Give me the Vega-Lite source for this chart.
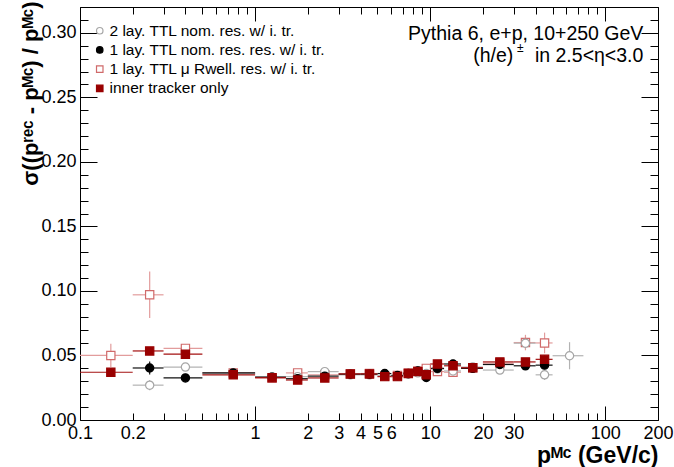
{
  "$schema": "https://vega.github.io/schema/vega-lite/v6.json",
  "width": 578,
  "height": 413,
  "padding": {"left": 80, "top": 7, "right": 16, "bottom": 47},
  "autosize": {"type": "none"},
  "background": "white",
  "config": {
    "view": {"stroke": "black", "strokeWidth": 1},
    "font": "Liberation Sans",
    "axis": {"labelFont": "Liberation Sans", "titleFont": "Liberation Sans", "labelColor": "black", "titleColor": "black", "tickColor": "black", "grid": false, "domain": false}
  },
  "datasets": {
    "res": [
      {"s":"C","p":0.15,"plo":0.1,"phi":0.2,"y":0.050,"ylo":0.041,"yhi":0.059},
      {"s":"C","p":0.25,"plo":0.2,"phi":0.3,"y":0.097,"ylo":0.079,"yhi":0.115},
      {"s":"C","p":0.4,"plo":0.3,"phi":0.5,"y":0.0555,"ylo":0.0525,"yhi":0.0585},
      {"s":"C","p":0.75,"plo":0.5,"phi":1,"y":0.0365,"ylo":0.0353,"yhi":0.0377},
      {"s":"C","p":1.25,"plo":1,"phi":1.5,"y":0.0325,"ylo":0.0315,"yhi":0.0335},
      {"s":"C","p":1.75,"plo":1.5,"phi":2,"y":0.0365,"ylo":0.0355,"yhi":0.0375},
      {"s":"C","p":2.5,"plo":2,"phi":3,"y":0.035,"ylo":0.034,"yhi":0.036},
      {"s":"C","p":3.5,"plo":3,"phi":4,"y":0.0357,"ylo":0.0347,"yhi":0.0367},
      {"s":"C","p":4.5,"plo":4,"phi":5,"y":0.036,"ylo":0.035,"yhi":0.037},
      {"s":"C","p":5.5,"plo":5,"phi":6,"y":0.034,"ylo":0.033,"yhi":0.035},
      {"s":"C","p":6.5,"plo":6,"phi":7,"y":0.0345,"ylo":0.0335,"yhi":0.0355},
      {"s":"C","p":7.5,"plo":7,"phi":8,"y":0.0365,"ylo":0.0355,"yhi":0.0375},
      {"s":"C","p":8.5,"plo":8,"phi":9,"y":0.038,"ylo":0.037,"yhi":0.039},
      {"s":"C","p":9.5,"plo":9,"phi":10,"y":0.040,"ylo":0.039,"yhi":0.041},
      {"s":"C","p":11,"plo":10,"phi":12,"y":0.0375,"ylo":0.0365,"yhi":0.0385},
      {"s":"C","p":13.5,"plo":12,"phi":15,"y":0.037,"ylo":0.036,"yhi":0.038},
      {"s":"C","p":17.5,"plo":15,"phi":20,"y":0.0405,"ylo":0.0395,"yhi":0.0415},
      {"s":"C","p":25,"plo":20,"phi":30,"y":0.044,"ylo":0.0425,"yhi":0.0455},
      {"s":"C","p":35,"plo":30,"phi":40,"y":0.060,"ylo":0.054,"yhi":0.066},
      {"s":"C","p":45,"plo":40,"phi":50,"y":0.0597,"ylo":0.0517,"yhi":0.0677},
      {"s":"A","p":0.25,"plo":0.2,"phi":0.3,"y":0.027,"ylo":0.023,"yhi":0.031},
      {"s":"A","p":0.4,"plo":0.3,"phi":0.5,"y":0.041,"ylo":0.039,"yhi":0.043},
      {"s":"A","p":0.75,"plo":0.5,"phi":1,"y":0.036,"ylo":0.0348,"yhi":0.0372},
      {"s":"A","p":1.25,"plo":1,"phi":1.5,"y":0.0335,"ylo":0.0325,"yhi":0.0345},
      {"s":"A","p":1.75,"plo":1.5,"phi":2,"y":0.0336,"ylo":0.0326,"yhi":0.0346},
      {"s":"A","p":2.5,"plo":2,"phi":3,"y":0.0375,"ylo":0.0365,"yhi":0.0385},
      {"s":"A","p":3.5,"plo":3,"phi":4,"y":0.035,"ylo":0.034,"yhi":0.036},
      {"s":"A","p":4.5,"plo":4,"phi":5,"y":0.035,"ylo":0.034,"yhi":0.036},
      {"s":"A","p":5.5,"plo":5,"phi":6,"y":0.0345,"ylo":0.0335,"yhi":0.0355},
      {"s":"A","p":6.5,"plo":6,"phi":7,"y":0.034,"ylo":0.033,"yhi":0.035},
      {"s":"A","p":7.5,"plo":7,"phi":8,"y":0.0355,"ylo":0.0345,"yhi":0.0365},
      {"s":"A","p":8.5,"plo":8,"phi":9,"y":0.0365,"ylo":0.0355,"yhi":0.0375},
      {"s":"A","p":9.5,"plo":9,"phi":10,"y":0.036,"ylo":0.035,"yhi":0.037},
      {"s":"A","p":11,"plo":10,"phi":12,"y":0.0395,"ylo":0.0385,"yhi":0.0405},
      {"s":"A","p":13.5,"plo":12,"phi":15,"y":0.038,"ylo":0.037,"yhi":0.039},
      {"s":"A","p":17.5,"plo":15,"phi":20,"y":0.041,"ylo":0.040,"yhi":0.042},
      {"s":"A","p":25,"plo":20,"phi":30,"y":0.0387,"ylo":0.0372,"yhi":0.0402},
      {"s":"A","p":35,"plo":30,"phi":40,"y":0.0595,"ylo":0.0555,"yhi":0.0635},
      {"s":"A","p":45,"plo":40,"phi":50,"y":0.035,"ylo":0.031,"yhi":0.039},
      {"s":"A","p":62.5,"plo":50,"phi":75,"y":0.0498,"ylo":0.0393,"yhi":0.0603},
      {"s":"B","p":0.25,"plo":0.2,"phi":0.3,"y":0.0403,"ylo":0.0353,"yhi":0.0453},
      {"s":"B","p":0.4,"plo":0.3,"phi":0.5,"y":0.0326,"ylo":0.0306,"yhi":0.0346},
      {"s":"B","p":0.75,"plo":0.5,"phi":1,"y":0.0365,"ylo":0.0353,"yhi":0.0377},
      {"s":"B","p":1.25,"plo":1,"phi":1.5,"y":0.0332,"ylo":0.0322,"yhi":0.0342},
      {"s":"B","p":1.75,"plo":1.5,"phi":2,"y":0.032,"ylo":0.031,"yhi":0.033},
      {"s":"B","p":2.5,"plo":2,"phi":3,"y":0.034,"ylo":0.033,"yhi":0.035},
      {"s":"B","p":3.5,"plo":3,"phi":4,"y":0.0355,"ylo":0.0345,"yhi":0.0365},
      {"s":"B","p":4.5,"plo":4,"phi":5,"y":0.0355,"ylo":0.0345,"yhi":0.0365},
      {"s":"B","p":5.5,"plo":5,"phi":6,"y":0.036,"ylo":0.035,"yhi":0.037},
      {"s":"B","p":6.5,"plo":6,"phi":7,"y":0.0345,"ylo":0.0335,"yhi":0.0355},
      {"s":"B","p":7.5,"plo":7,"phi":8,"y":0.036,"ylo":0.035,"yhi":0.037},
      {"s":"B","p":8.5,"plo":8,"phi":9,"y":0.038,"ylo":0.037,"yhi":0.039},
      {"s":"B","p":9.5,"plo":9,"phi":10,"y":0.033,"ylo":0.032,"yhi":0.034},
      {"s":"B","p":11,"plo":10,"phi":12,"y":0.040,"ylo":0.039,"yhi":0.041},
      {"s":"B","p":13.5,"plo":12,"phi":15,"y":0.0434,"ylo":0.0424,"yhi":0.0444},
      {"s":"B","p":17.5,"plo":15,"phi":20,"y":0.040,"ylo":0.039,"yhi":0.041},
      {"s":"B","p":25,"plo":20,"phi":30,"y":0.043,"ylo":0.0415,"yhi":0.0445},
      {"s":"B","p":35,"plo":30,"phi":40,"y":0.042,"ylo":0.040,"yhi":0.044},
      {"s":"B","p":45,"plo":40,"phi":50,"y":0.0425,"ylo":0.0395,"yhi":0.0455},
      {"s":"D","p":0.15,"plo":0.1,"phi":0.2,"y":0.037,"ylo":0.034,"yhi":0.040},
      {"s":"D","p":0.25,"plo":0.2,"phi":0.3,"y":0.0535,"ylo":0.0505,"yhi":0.0565},
      {"s":"D","p":0.4,"plo":0.3,"phi":0.5,"y":0.051,"ylo":0.049,"yhi":0.053},
      {"s":"D","p":0.75,"plo":0.5,"phi":1,"y":0.035,"ylo":0.034,"yhi":0.036},
      {"s":"D","p":1.25,"plo":1,"phi":1.5,"y":0.0328,"ylo":0.0318,"yhi":0.0338},
      {"s":"D","p":1.75,"plo":1.5,"phi":2,"y":0.031,"ylo":0.030,"yhi":0.032},
      {"s":"D","p":2.5,"plo":2,"phi":3,"y":0.0326,"ylo":0.0316,"yhi":0.0336},
      {"s":"D","p":3.5,"plo":3,"phi":4,"y":0.0357,"ylo":0.0347,"yhi":0.0367},
      {"s":"D","p":4.5,"plo":4,"phi":5,"y":0.0357,"ylo":0.0347,"yhi":0.0367},
      {"s":"D","p":5.5,"plo":5,"phi":6,"y":0.0336,"ylo":0.0326,"yhi":0.0346},
      {"s":"D","p":6.5,"plo":6,"phi":7,"y":0.0336,"ylo":0.0326,"yhi":0.0346},
      {"s":"D","p":7.5,"plo":7,"phi":8,"y":0.036,"ylo":0.035,"yhi":0.037},
      {"s":"D","p":8.5,"plo":8,"phi":9,"y":0.0375,"ylo":0.0365,"yhi":0.0385},
      {"s":"D","p":9.5,"plo":9,"phi":10,"y":0.035,"ylo":0.034,"yhi":0.036},
      {"s":"D","p":11,"plo":10,"phi":12,"y":0.0434,"ylo":0.0424,"yhi":0.0444},
      {"s":"D","p":13.5,"plo":12,"phi":15,"y":0.042,"ylo":0.041,"yhi":0.043},
      {"s":"D","p":17.5,"plo":15,"phi":20,"y":0.0405,"ylo":0.0395,"yhi":0.0415},
      {"s":"D","p":25,"plo":20,"phi":30,"y":0.045,"ylo":0.0435,"yhi":0.0465},
      {"s":"D","p":35,"plo":30,"phi":40,"y":0.045,"ylo":0.043,"yhi":0.047},
      {"s":"D","p":45,"plo":40,"phi":50,"y":0.047,"ylo":0.044,"yhi":0.050}
    ],
    "notes": [
      {"p": 165, "y": 0.299, "t": "Pythia 6, e+p, 10+250 GeV"},
      {"p": 165, "y": 0.282, "t": "in 2.5<η<3.0"}
    ],
    "notes2": [
      {"p": 165, "y": 0.282, "t": "(h/e)"}
    ],
    "notes3": [
      {"p": 165, "y": 0.282, "t": "±"}
    ]
  },
  "resolve": {"axis": {"x": "independent", "y": "independent"}},
  "layer": [
    {
      "data": {"name": "res"},
      "mark": {"type": "rule", "strokeWidth": 1.2},
      "encoding": {
        "x": {"field": "plo", "type": "quantitative",
          "scale": {"type": "log", "domain": [0.1, 200], "nice": false, "zero": false},
          "axis": {
            "orient": "bottom",
            "values": [0.1,0.2,0.3,0.4,0.5,0.6,0.7,0.8,0.9,1,2,3,4,5,6,7,8,9,10,20,30,40,50,60,70,80,90,100,200],
            "format": "~g",
            "labelExpr": "indexof([0.1,0.2,1,2,3,4,5,6,10,20,30,100,200], datum.value) >= 0 ? datum.label : ''",
            "labelOverlap": false, "labelFlush": false,
            "labelFontSize": 18, "labelBaseline": "top",
            "labelPadding": {"condition": {"test": "datum.value==1||datum.value==10||datum.value==100", "value": 18}, "value": 11},
            "tickSize": {"condition": {"test": "datum.value==1||datum.value==10||datum.value==100", "value": -14}, "value": -7},
            "title": "pᴹᶜ  (GeV/c)", "titleFontSize": 23, "titleFontWeight": "bold",
            "titleAnchor": "end", "titleAlign": "right", "titleX": 578, "titleY": 42, "titleBaseline": "alphabetic"
          }},
        "x2": {"field": "phi"},
        "y": {"field": "y", "type": "quantitative",
          "scale": {"domain": [0, 0.32], "nice": false, "zero": true},
          "axis": {
            "orient": "left",
            "values": [0,0.01,0.02,0.03,0.04,0.05,0.06,0.07,0.08,0.09,0.1,0.11,0.12,0.13,0.14,0.15,0.16,0.17,0.18,0.19,0.2,0.21,0.22,0.23,0.24,0.25,0.26,0.27,0.28,0.29,0.3,0.31,0.32],
            "labelExpr": "round(datum.value*100) % 5 == 0 ? format(datum.value, '.2f') : ''",
            "labelOverlap": false, "labelFlush": false,
            "labelFontSize": 18,
            "labelPadding": {"condition": {"test": "round(datum.value*100) % 5 == 0", "value": 21}, "value": 12},
            "tickSize": {"condition": {"test": "round(datum.value*100) % 5 == 0", "value": -17}, "value": -8},
            "title": "σ((pʳᵉᶜ - pᴹᶜ) / pᴹᶜ)", "titleFontSize": 22, "titleFontWeight": "bold",
            "titleAnchor": "end", "titleAlign": "right", "titleAngle": -90, "titleBaseline": "middle",
            "titleX": -50, "titleY": -6
          }},
        "color": {"field": "s", "type": "nominal", "legend": null,
          "scale": {"domain": ["D","C","B","A"], "range": ["#a31010", "#e29c9c", "#111111", "#b3b3b3"]}}
      }
    },
    {
      "data": {"name": "res"},
      "mark": {"type": "rule", "strokeWidth": 1.2},
      "encoding": {
        "x": {"field": "p", "type": "quantitative", "axis": null},
        "y": {"field": "ylo", "type": "quantitative", "axis": null},
        "y2": {"field": "yhi"},
        "color": {"field": "s", "type": "nominal", "legend": null}
      }
    },
    {
      "data": {"name": "res"},
      "mark": {"type": "point", "filled": true, "opacity": 1, "size": 68, "strokeWidth": 1.2},
      "encoding": {
        "x": {"field": "p", "type": "quantitative",
          "axis": {
            "orient": "top", "labels": false, "title": null,
            "values": [0.1,0.2,0.3,0.4,0.5,0.6,0.7,0.8,0.9,1,2,3,4,5,6,7,8,9,10,20,30,40,50,60,70,80,90,100,200],
            "tickSize": {"condition": {"test": "datum.value==1||datum.value==10||datum.value==100", "value": -14}, "value": -7}
          }},
        "y": {"field": "y", "type": "quantitative",
          "axis": {
            "orient": "right", "labels": false, "title": null,
            "values": [0,0.01,0.02,0.03,0.04,0.05,0.06,0.07,0.08,0.09,0.1,0.11,0.12,0.13,0.14,0.15,0.16,0.17,0.18,0.19,0.2,0.21,0.22,0.23,0.24,0.25,0.26,0.27,0.28,0.29,0.3,0.31,0.32],
            "tickSize": {"condition": {"test": "round(datum.value*100) % 5 == 0", "value": -17}, "value": -8}
          }},
        "shape": {"field": "s", "type": "nominal",
          "scale": {"domain": ["A","B","C","D"], "range": ["circle", "circle", "square", "square"]},
          "legend": {
            "orient": "none", "legendX": 12, "legendY": 16, "title": null, "direction": "vertical",
            "labelExpr": "datum.label == 'A' ? '2 lay. TTL nom. res. w/ i. tr.' : datum.label == 'B' ? '1 lay. TTL nom. res. res. w/ i. tr.' : datum.label == 'C' ? '1 lay. TTL μ Rwell. res. w/ i. tr.' : 'inner tracker only'",
            "labelFont": "Liberation Sans", "labelFontSize": 15.5, "labelColor": "black", "labelOffset": 2, "labelLimit": 300,
            "symbolSize": 42, "symbolStrokeWidth": 1.2, "rowPadding": 2.2, "padding": 0
          }},
        "fill": {"field": "s", "type": "nominal",
          "scale": {"domain": ["A","B","C","D"], "range": ["white", "black", "white", "#990000"]}},
        "stroke": {"field": "s", "type": "nominal",
          "scale": {"domain": ["A","B","C","D"], "range": ["#a6a6a6", "black", "#d06a6a", "#990000"]}}
      }
    },
    {
      "data": {"name": "notes"},
      "mark": {"type": "text", "align": "right", "baseline": "middle", "fontSize": 19.5, "font": "Liberation Sans", "color": "black"},
      "encoding": {
        "x": {"field": "p", "type": "quantitative", "axis": null},
        "y": {"field": "y", "type": "quantitative", "axis": null},
        "text": {"field": "t"}
      }
    },
    {
      "data": {"name": "notes2"},
      "mark": {"type": "text", "align": "right", "baseline": "middle", "fontSize": 19.5, "font": "Liberation Sans", "color": "black", "dx": -130},
      "encoding": {
        "x": {"field": "p", "type": "quantitative", "axis": null},
        "y": {"field": "y", "type": "quantitative", "axis": null},
        "text": {"field": "t"}
      }
    },
    {
      "data": {"name": "notes3"},
      "mark": {"type": "text", "align": "center", "baseline": "middle", "fontSize": 12, "font": "Liberation Sans", "color": "black", "dx": -123, "dy": -8},
      "encoding": {
        "x": {"field": "p", "type": "quantitative", "axis": null},
        "y": {"field": "y", "type": "quantitative", "axis": null},
        "text": {"field": "t"}
      }
    }
  ]
}
